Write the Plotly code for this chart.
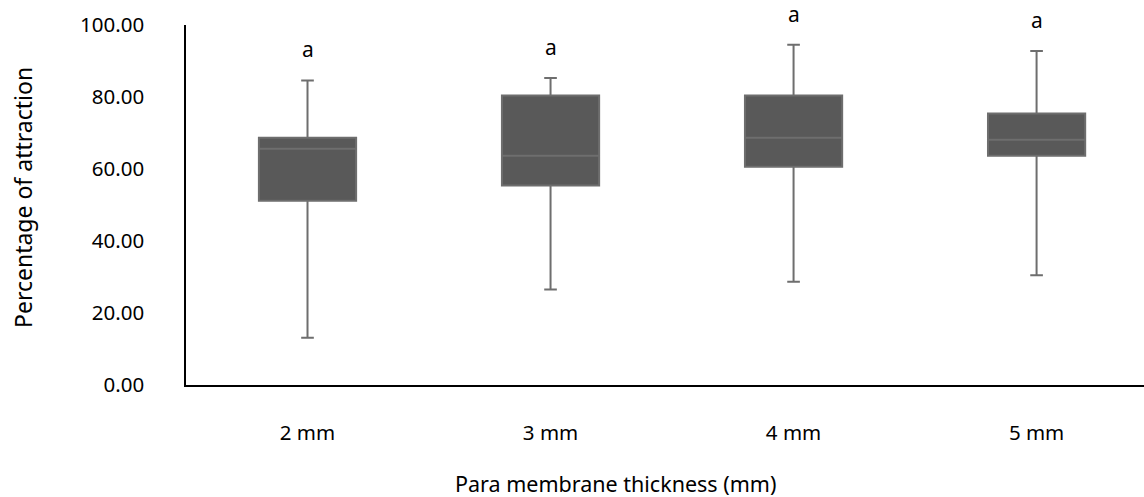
import plotly.graph_objects as go

categories = ["2 mm", "3 mm", "4 mm", "5 mm"]
q1_vals = [51.2, 55.4, 60.6, 63.7]
median_vals = [65.6, 63.7, 68.7, 68.1]
q3_vals = [68.7, 80.4, 80.4, 75.4]
low_vals = [13.1, 26.5, 28.7, 30.5]
high_vals = [84.6, 85.3, 94.5, 92.8]
letters = ["a", "a", "a", "a"]
y_ticks = [0, 20, 40, 60, 80, 100]

FONT = "Noto Sans"

fig = go.Figure()
fig.add_trace(go.Box(
    x=categories,
    q1=q1_vals, median=median_vals, q3=q3_vals,
    lowerfence=low_vals, upperfence=high_vals,
    fillcolor="#595959",
    line=dict(color="#6e6e6e", width=2),
    whiskerwidth=0.13,
    width=0.4,
    boxpoints=False,
    showlegend=False,
    hoverinfo="skip",
))

for c, h, t in zip(categories, high_vals, letters):
    fig.add_annotation(x=c, y=h, text=t, showarrow=False, yshift=31,
                       yanchor="middle", font=dict(family=FONT, size=21, color="black"))

fig.add_annotation(text="Percentage of attraction", xref="paper", yref="paper",
                   x=(23-186)/958, y=(385-198)/360, textangle=-90,
                   showarrow=False, xanchor="center", yanchor="middle",
                   font=dict(family=FONT, size=23, color="black"))
fig.add_annotation(text="Para membrane thickness (mm)", xref="paper", yref="paper",
                   x=(615-186)/958, y=-(484-385)/360, showarrow=False,
                   xanchor="center", yanchor="middle",
                   font=dict(family=FONT, size=21.5, color="black"))

fig.update_layout(
    width=1144, height=497,
    margin=dict(l=186, r=0, t=25, b=112),
    paper_bgcolor="white", plot_bgcolor="white",
    font=dict(family=FONT, size=20, color="black"),
)
fig.update_xaxes(
    type="category", range=[-0.5, 3.442],
    showline=True, linecolor="black", linewidth=2,
    showgrid=False, zeroline=False, ticks="",
    ticklabelstandoff=28,
    tickfont=dict(family=FONT, size=20.5, color="black"),
)
fig.update_yaxes(
    range=[0, 100], tickvals=y_ticks,
    ticktext=[f"{v:.2f}" for v in y_ticks],
    showline=True, linecolor="black", linewidth=1.5,
    showgrid=False, zeroline=False, ticks="",
    ticklabelstandoff=36,
    tickfont=dict(family=FONT, size=20.5, color="black"),
)

fig.write_html("out.html")
